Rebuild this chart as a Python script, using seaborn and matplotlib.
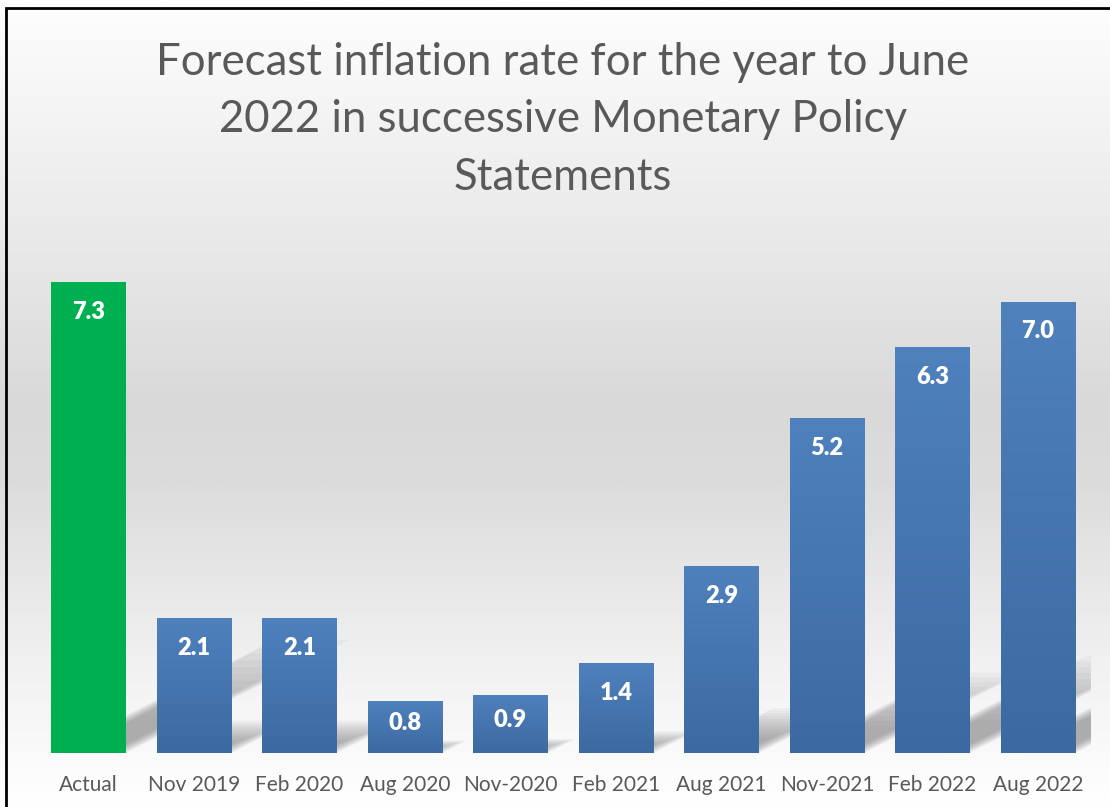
import numpy as np
import matplotlib
matplotlib.use("Agg")
import matplotlib.pyplot as plt
import seaborn as sns
from matplotlib.patches import Polygon, Rectangle
from matplotlib.colors import LinearSegmentedColormap

categories = ["Actual", "Nov 2019", "Feb 2020", "Aug 2020", "Nov-2020",
              "Feb 2021", "Aug 2021", "Nov-2021", "Feb 2022", "Aug 2022"]
values = [7.3, 2.1, 2.1, 0.8, 0.9, 1.4, 2.9, 5.2, 6.3, 7.0]
title = "Forecast inflation rate for the year to June\n2022 in successive Monetary Policy\nStatements"

GREEN = "#00b050"
BLUE_TOP = "#4f81bd"
BLUE_BOT = "#3c69a1"
TEXT_GREY = "#595959"

sns.set_theme(style="white")
plt.rcParams["font.family"] = ["Lato", "DejaVu Sans"]

W, H, DPI = 1110, 807, 100
fig = plt.figure(figsize=(W / DPI, H / DPI), dpi=DPI)

# figure background gradient
bg = fig.add_axes([0, 0, 1, 1], zorder=-10)
stops = [(0.0, "#fefefe"), (0.15, "#f3f3f3"), (0.31, "#e8e8e8"), (0.5, "#d9d9d9"),
         (0.6, "#dcdcdc"), (0.77, "#ececec"), (0.87, "#f5f5f5"), (1.0, "#ffffff")]
bgcmap = LinearSegmentedColormap.from_list("bg", stops)
grad = np.linspace(0, 1, 512).reshape(-1, 1)
bg.imshow(grad, aspect="auto", cmap=bgcmap, extent=[0, 1, 0, 1], origin="upper")
bg.set_axis_off()
# border
fig.patches.append(Rectangle((6 / W, -0.1), 1.2, 1 - 8 / H + 0.1, transform=fig.transFigure,
                             fill=False, edgecolor="black", linewidth=2, zorder=20))

left = 35.75 / W
right = 1090.75 / W
bottom = 54 / H
ymax = 8.0
top_px = 753 - ymax * 64.5
top = (H - top_px) / H
ax = fig.add_axes([left, bottom, right - left, top - bottom])
ax.patch.set_alpha(0)

colors = [GREEN] + [BLUE_TOP] * (len(values) - 1)
sns.barplot(x=categories, y=values, hue=categories, palette=colors, legend=False,
            width=0.71, saturation=1, linewidth=0, edgecolor="none", ax=ax, zorder=3)
ax.set_ylim(0, ymax)
ax.set_xlim(-0.5, len(values) - 0.5)
for s in ax.spines.values():
    s.set_visible(False)
ax.set_yticks([])
ax.set_xlabel("")
ax.set_ylabel("")
ax.tick_params(axis="x", length=0, pad=16, labelsize=15, labelcolor=TEXT_GREY)

bar_cmap = LinearSegmentedColormap.from_list("bar", [BLUE_BOT, BLUE_TOP])
patches = list(ax.patches)
for i, p in enumerate(patches):
    x0, w, h = p.get_x(), p.get_width(), p.get_height()
    p.set_linewidth(0)
    # blurred perspective shadow
    for k in range(12):
        f = 1.0 - k * 0.06
        dx = 0.29 * h * f
        dy = 0.24 * h * f
        shrink = 0.015 * k
        poly = Polygon([(x0 + shrink, 0), (x0 + w - shrink, 0),
                        (x0 + w + dx - shrink, dy), (x0 + dx + shrink, dy)],
                       closed=True, facecolor="#6f6f6f", edgecolor="none",
                       alpha=0.06, zorder=1)
        ax.add_patch(poly)
    if i > 0:
        img = ax.imshow(np.linspace(1, 0, 256).reshape(-1, 1), cmap=bar_cmap, aspect="auto",
                        extent=[x0, x0 + w, 0, h], zorder=4, origin="upper")
        img.set_clip_path(p)
    # value label
    px_per_unit = 64.5
    lab_y = max(h - 30 / px_per_unit, h / 2 + 4 / px_per_unit)
    ax.text(x0 + w / 2, lab_y, f"{values[i]:.1f}", ha="center", va="center",
            color="white", fontsize=17, fontweight="heavy", zorder=6)

ax.set_xlim(-0.5, len(values) - 0.5)
ax.set_ylim(0, ymax)

fig.text(563 / W, 1 - 120 / H, title, ha="center", va="center", fontsize=31.5,
         color=TEXT_GREY, linespacing=1.5)

fig.savefig("out.png", dpi=DPI)
